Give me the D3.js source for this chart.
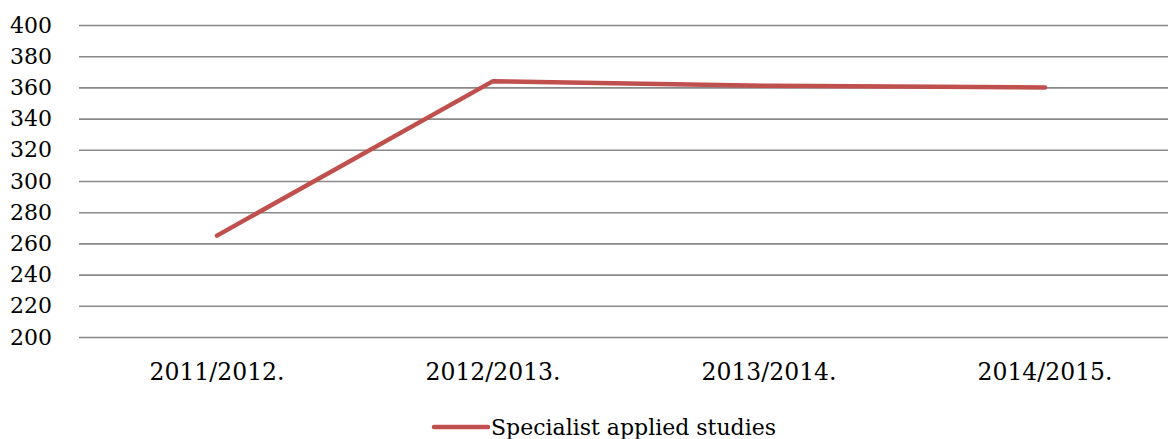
<!DOCTYPE html>
<html>
<head>
<meta charset="utf-8">
<script src="https://cdn.jsdelivr.net/npm/d3@7"></script>
<style>
  body { margin: 0; background: #fff; }
  svg { display: block; }
  text { font-family: "DejaVu Serif", serif; fill: #000; }
</style>
</head>
<body>
<svg id="chart"></svg>
<script>
const categories = ['2011/2012.', '2012/2013.', '2013/2014.', '2014/2015.'];
const seriesName = 'Specialist applied studies';
const seriesValues = [265, 364, 361, 360];
const yTicks = [200, 220, 240, 260, 280, 300, 320, 340, 360, 380, 400];

(() => {
  const svgWidth = 1168;
  const svgHeight = 439;
  const lineColor = '#c0504d';

  const svg = d3.select('#chart')
    .attr('width', svgWidth)
    .attr('height', svgHeight);

  // plot runs past the right edge, like in the original
  const xScale = d3.scalePoint()
    .domain(categories)
    .range([79, 1183])
    .padding(0.5);

  const yScale = d3.scaleLinear()
    .domain([200, 400])
    .range([337, 25]);

  // gridlines + y labels
  const yAxis = d3.axisLeft(yScale)
    .tickValues(yTicks)
    .tickSize(-(svgWidth - 79))
    .tickPadding(27);

  svg.append('g')
    .attr('transform', 'translate(79,0)')
    .call(yAxis)
    .call(g => g.select('.domain').remove())
    .call(g => g.selectAll('line').attr('stroke', '#898989').attr('stroke-width', 1.6))
    .call(g => g.selectAll('text').attr('font-size', 22).attr('fill', '#000'));

  // category labels
  svg.append('g')
    .selectAll('text')
    .data(categories)
    .enter()
    .append('text')
    .attr('x', d => xScale(d))
    .attr('y', 380)
    .attr('text-anchor', 'middle')
    .attr('font-size', 23.5)
    .text(d => d);

  const line = d3.line()
    .x((d, i) => xScale(categories[i]))
    .y(d => yScale(d));

  svg.append('path')
    .datum(seriesValues)
    .attr('d', line)
    .attr('fill', 'none')
    .attr('stroke', lineColor)
    .attr('stroke-width', 4.5)
    .attr('stroke-linecap', 'round')
    .attr('stroke-linejoin', 'round');

  // legend
  const legend = svg.append('g').attr('transform', 'translate(434,427)');
  legend.append('line')
    .attr('x1', 0).attr('x2', 54)
    .attr('y1', 0).attr('y2', 0)
    .attr('stroke', lineColor)
    .attr('stroke-width', 4.5)
    .attr('stroke-linecap', 'round');
  legend.append('text')
    .attr('x', 57)
    .attr('y', 8)
    .attr('font-size', 22)
    .text(seriesName);
})();
</script>
</body>
</html>
